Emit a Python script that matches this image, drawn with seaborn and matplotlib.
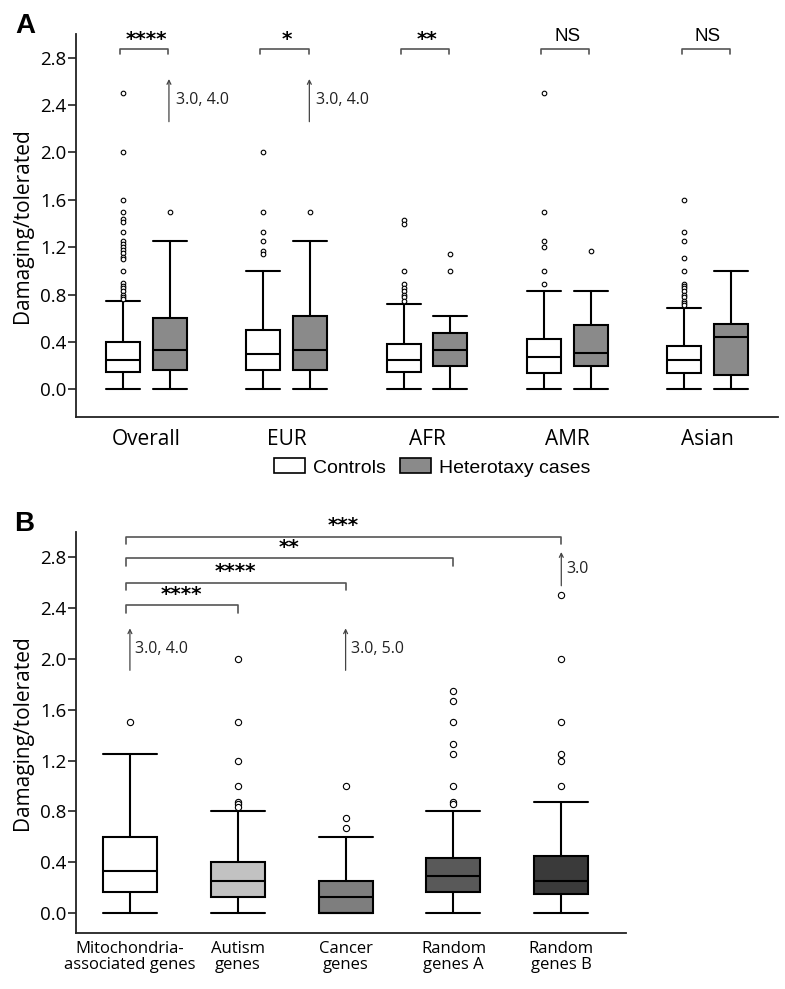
import numpy as np
import seaborn as sns
import matplotlib
matplotlib.use('Agg')
import matplotlib.pyplot as plt
from matplotlib.patches import Patch

# panel A: damaging/tolerated ratio by ancestry
groups_a = ['Overall', 'EUR', 'AFR', 'AMR', 'Asian']
ctrl_q1 = [0.15, 0.167, 0.15, 0.143, 0.143]
ctrl_med = [0.25, 0.30, 0.25, 0.27, 0.25]
ctrl_q3 = [0.40, 0.50, 0.385, 0.43, 0.37]
ctrl_lo = [0.0, 0.0, 0.0, 0.0, 0.0]
ctrl_hi = [0.75, 1.0, 0.72, 0.83, 0.69]
ctrl_fliers = [
    [2.5, 2.0, 1.6, 1.5, 1.44, 1.41, 1.33, 1.25, 1.225, 1.2, 1.18, 1.155, 1.12, 1.1,
     1.0, 0.9, 0.875, 0.857, 0.833, 0.8, 0.78, 0.76],
    [2.0, 1.5, 1.33, 1.25, 1.17, 1.14],
    [1.43, 1.4, 1.0, 0.89, 0.86, 0.83, 0.8, 0.78, 0.75],
    [2.5, 1.5, 1.25, 1.2, 1.0, 0.89],
    [1.6, 1.33, 1.25, 1.11, 1.0, 0.89, 0.875, 0.857, 0.83, 0.8, 0.78, 0.75, 0.73, 0.71],
]
case_q1 = [0.16, 0.167, 0.2, 0.2, 0.12]
case_med = [0.33, 0.33, 0.33, 0.31, 0.44]
case_q3 = [0.60, 0.62, 0.48, 0.54, 0.55]
case_lo = [0.0, 0.0, 0.0, 0.0, 0.0]
case_hi = [1.25, 1.25, 0.62, 0.83, 1.0]
case_fliers = [[1.5], [1.5], [1.14, 1.0], [1.17], []]
signif_a = ['****', '*', '**', 'NS', 'NS']
offscale_a = {0: '3.0, 4.0', 1: '3.0, 4.0'}   # group index -> values above axis (cases)

# panel B: gene sets
gene_sets = ['Mitochondria-\nassociated genes', 'Autism\ngenes', 'Cancer\ngenes',
             'Random\ngenes A', 'Random\ngenes B']
gs_q1 = [0.17, 0.125, 0.0, 0.167, 0.15]
gs_med = [0.333, 0.25, 0.125, 0.29, 0.25]
gs_q3 = [0.60, 0.40, 0.25, 0.435, 0.45]
gs_lo = [0.0, 0.0, 0.0, 0.0, 0.0]
gs_hi = [1.25, 0.80, 0.60, 0.80, 0.875]
gs_fliers = [
    [1.5],
    [2.0, 1.5, 1.2, 1.0, 0.875, 0.857, 0.833],
    [1.0, 0.75, 0.667],
    [1.75, 1.67, 1.5, 1.33, 1.25, 1.0, 0.875, 0.857],
    [2.5, 2.0, 1.5, 1.25, 1.2, 1.0],
]
gs_colors = ['#ffffff', '#c2c2c2', '#7e7e7e', '#595959', '#3a3a3a']
comparisons_b = [(1, '****'), (2, '****'), (3, '**'), (4, '***')]
offscale_b = {0: '3.0, 4.0', 2: '3.0, 5.0', 4: '3.0'}

sns.set_style('ticks')
plt.rcParams['font.family'] = ['Open Sans', 'DejaVu Sans']
plt.rcParams['axes.edgecolor'] = '#222222'
plt.rcParams['axes.linewidth'] = 1.3
plt.rcParams['text.color'] = 'black'
plt.rcParams['axes.labelcolor'] = 'black'
plt.rcParams['xtick.color'] = 'black'
plt.rcParams['ytick.color'] = 'black'


def draw_boxes(ax, positions, width, q1, med, q3, lo, hi, fliers, colors, msize):
    stats = []
    for i in range(len(positions)):
        stats.append(dict(q1=q1[i], med=med[i], q3=q3[i], whislo=lo[i], whishi=hi[i],
                          fliers=fliers[i]))
    lines = dict(color='black', linewidth=1.5)
    res = ax.bxp(stats, positions=positions, widths=width, capwidths=width,
                 patch_artist=True, showfliers=True, manage_ticks=False,
                 boxprops=dict(edgecolor='black', linewidth=1.5),
                 whiskerprops=lines, capprops=lines, medianprops=lines,
                 flierprops=dict(marker='o', markerfacecolor='white',
                                 markeredgecolor='black', markersize=msize,
                                 markeredgewidth=0.8))
    for box, c in zip(res['boxes'], colors):
        box.set_facecolor(c)


def style_axis(ax, ylim):
    ax.set_ylim(*ylim)
    ax.set_yticks(np.arange(0, 2.81, 0.4))
    ax.set_yticklabels(['%.1f' % v for v in np.arange(0, 2.81, 0.4)])
    ax.tick_params(axis='y', labelsize=13.5, length=6, width=1.2, pad=1, color='#222222')
    ax.set_ylabel('Damaging/tolerated', fontsize=15)
    sns.despine(ax=ax)


def offscale_arrow(ax, x, y0, y1, label):
    ax.annotate('', xy=(x, y1), xytext=(x, y0),
                arrowprops=dict(arrowstyle='->', lw=0.9, color='#444444',
                                mutation_scale=7, shrinkA=0, shrinkB=0))
    ax.text(x + 0.05, (y0 + y1) / 2, label, fontsize=11.5, color='#222222',
            ha='left', va='center')


fig = plt.figure(figsize=(7.85, 9.89), dpi=100)
W, H = 785.0, 989.0

# ---------- panel A ----------
axA = fig.add_axes([76 / W, 1 - 416.7 / H, 702 / W, 382.7 / H])
gx = np.arange(len(groups_a))
off, bw = 0.167, 0.242
draw_boxes(axA, gx - off, bw, ctrl_q1, ctrl_med, ctrl_q3, ctrl_lo, ctrl_hi,
           ctrl_fliers, ['white'] * 5, 3.3)
draw_boxes(axA, gx + off, bw, case_q1, case_med, case_q3, case_lo, case_hi,
           case_fliers, ['#8a8a8a'] * 5, 3.3)
axA.set_xlim(-0.5, 4.5)
axA.set_xticks(gx)
axA.set_xticklabels(groups_a, fontsize=15)
axA.tick_params(axis='x', length=0, pad=9)
style_axis(axA, (-0.23, 3.0))

for i, s in enumerate(signif_a):
    xl, xr = gx[i] - off - 0.02, gx[i] + off - 0.01
    axA.plot([xl, xl, xr, xr], [2.83, 2.875, 2.875, 2.83], color='#555555', lw=1.2,
             clip_on=False)
    if s == 'NS':
        axA.text(gx[i], 2.975, s, fontsize=13.5, ha='center', va='center',
                 family='Liberation Sans')
    else:
        axA.text(gx[i], 2.955, s, fontsize=14.5, fontweight='bold', ha='center',
                 va='center', family='DejaVu Sans')
for i, lab in offscale_a.items():
    offscale_arrow(axA, gx[i] + off - 0.005, 2.26, 2.62, lab)

fig.legend([Patch(facecolor='white', edgecolor='black', lw=1.2),
            Patch(facecolor='#8a8a8a', edgecolor='black', lw=1.2)],
           ['Controls', 'Heterotaxy cases'], loc='center',
           bbox_to_anchor=(432 / W, 1 - 467.5 / H), ncol=2, frameon=False,
           prop=dict(family='Liberation Sans', size=14), handlelength=1.6,
           handleheight=0.78, handletextpad=0.4, columnspacing=0.75)

# ---------- panel B ----------
axB = fig.add_axes([76 / W, 1 - 932.7 / H, 550 / W, 401 / H])
bx = np.arange(len(gene_sets))
draw_boxes(axB, bx, 0.5, gs_q1, gs_med, gs_q3, gs_lo, gs_hi, gs_fliers, gs_colors, 4.5)
axB.set_xlim(-0.5, 4.6)
axB.set_xticks(bx)
axB.set_xticklabels(gene_sets, fontsize=12, linespacing=1.0)
axB.tick_params(axis='x', length=0, pad=6)
style_axis(axB, (-0.153, 3.0))

levels = [2.42, 2.60, 2.79, 2.96]
for (j, s), yb in zip(comparisons_b, levels):
    xl = -0.04
    axB.plot([xl, xl, bx[j], bx[j]], [yb - 0.06, yb, yb, yb - 0.06], color='#555555',
             lw=1.2, clip_on=False)
    axB.text((xl + bx[j]) / 2, yb + 0.085, s, fontsize=14.5, fontweight='bold',
             ha='center', va='center', family='DejaVu Sans', clip_on=False)
for i, lab in offscale_b.items():
    if i == 4:
        offscale_arrow(axB, bx[i], 2.575, 2.84, lab)
    else:
        offscale_arrow(axB, bx[i], 1.91, 2.24, lab)

for ax in (axA, axB):
    ax.yaxis.set_label_coords(-43 / (ax.get_position().width * W), 0.5)

fig.text(15 / W, 1 - 33 / H, 'A', fontsize=20, fontweight='bold',
         family='Liberation Sans', ha='left', va='baseline')
fig.text(14 / W, 1 - 531 / H, 'B', fontsize=20, fontweight='bold',
         family='Liberation Sans', ha='left', va='baseline')

fig.savefig('out.png', dpi=100)
